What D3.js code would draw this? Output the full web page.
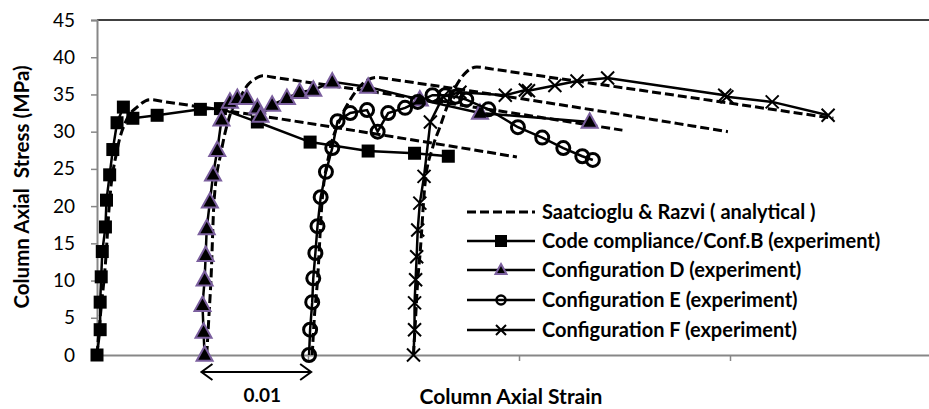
<!DOCTYPE html>
<html><head><meta charset="utf-8">
<script src="https://cdn.jsdelivr.net/npm/d3@7"></script>
<style>
body{margin:0;background:#fff}
svg{display:block}
text{font-family:Lato,"Liberation Sans",sans-serif;fill:#000}
</style>
</head><body>
<svg id="c" width="929" height="409"></svg>
<script>
// ---- data ----
const yTicks = [0,5,10,15,20,25,30,35,40,45];
const xTicks = [0.02,0.04,0.06];
const legendLabels = [
  "Saatcioglu & Razvi ( analytical )",
  "Code compliance/Conf.B (experiment)",
  "Configuration D (experiment)",
  "Configuration E (experiment)",
  "Configuration F (experiment)"
];
const yTitle = "Column Axial  Stress (MPa)";
const xTitle = "Column Axial Strain";
const arrowLabel = "0.01";
const arrowSpan = [0.0099, 0.0203];

// analytical (Saatcioglu & Razvi) curves, one per specimen
const anaB_strain = [0,0.0003,0.0008,0.0012,0.0019,0.0028,0.0038,0.0050,0.0065,0.0398];
const anaB_stress = [0,5,12.3,20.8,27.5,31.6,33.3,34.3,34.0,26.6];
const anaD_strain = [0.0104,0.0106,0.0108,0.0111,0.0118,0.0126,0.0136,0.0143,0.0150,0.0157,0.0172,0.0498];
const anaD_stress = [0,5,10,20.8,27.5,32.2,34.7,36.3,37.1,37.5,37.2,30.2];
const anaE_strain = [0.0204,0.0206,0.0209,0.0213,0.0220,0.0230,0.0240,0.0250,0.0257,0.0265,0.0280,0.0598];
const anaE_stress = [0,5,10,20,27,31.5,34.3,36.2,37.0,37.3,37.0,30.0];
const anaF_strain = [0.0300,0.0302,0.0304,0.0306,0.0311,0.0318,0.0325,0.0333,0.0341,0.0350,0.0360,0.0375,0.0698];
const anaF_stress = [0,5,10,13.2,23.1,27.8,30.6,33.8,36.3,38.0,38.7,38.4,31.8];

// experiments
const confB_strain = [0,0.0003,0.0003,0.0004,0.0005,0.0008,0.0009,0.0012,0.0015,0.0019,0.0025,0.0034,0.0057,0.0098,0.0117,0.0152,0.0202,0.0257,0.0301,0.0333];
const confB_stress = [0,3.4,7.1,10.5,13.9,17.2,20.8,24.2,27.6,31.2,33.3,31.8,32.2,33.0,33.1,31.3,28.6,27.4,27.1,26.7];
const confD_strain = [0.0102,0.0101,0.0100,0.0102,0.0103,0.0104,0.0107,0.0110,0.0114,0.0118,0.0126,0.0133,0.0142,0.0152,0.0155,0.0166,0.0180,0.0192,0.0205,0.0223,0.0257,0.0306,0.0363,0.0467];
const confD_stress = [0,3.1,6.7,10.1,13.4,17.0,20.6,24.2,27.5,31.6,34.0,34.5,34.5,33.2,32.1,33.6,34.5,35.3,35.6,36.7,36.0,34.3,32.5,31.3];
const confE_strain = [0.0201,0.0202,0.0204,0.0205,0.0207,0.0209,0.0212,0.0217,0.0223,0.0228,0.0240,0.0256,0.0266,0.0276,0.0292,0.0304,0.0318,0.0330,0.0340,0.0350,0.0371,0.0399,0.0422,0.0442,0.0460,0.0470];
const confE_stress = [0,3.4,7.1,10.3,13.7,17.3,21.2,24.6,27.8,31.4,32.5,32.9,30.0,32.5,33.2,34.0,34.9,34.9,34.7,34.3,33.0,30.6,29.2,27.8,26.7,26.2];
const confF_strain = [0.0300,0.0301,0.0301,0.0302,0.0303,0.0304,0.0306,0.0310,0.0316,0.0328,0.0344,0.0387,0.0406,0.0409,0.0434,0.0455,0.0484,0.0595,0.0597,0.0640,0.0693];
const confF_stress = [0,3.4,7.0,10.1,13.2,16.8,20.4,24.0,31.3,34.7,35.3,34.9,35.6,35.5,36.2,36.8,37.2,34.9,34.7,34.0,32.2];

// ---- drawing ----
const svg = d3.select("#c");
const L = 97, R = 941, T = 20, B = 355;
const x = d3.scaleLinear().domain([0,0.08]).range([L,R]);
const y = d3.scaleLinear().domain([0,45]).range([B,T]);
const zip = (a,b) => a.map((v,i)=>[v,b[i]]);
const PURPLE = "#7b5f9e";

// plot border (top)
svg.append("line").attr("x1",L).attr("x2",R).attr("y1",T).attr("y2",T)
  .attr("stroke","#000").attr("stroke-width",1.6);

// y axis
const yAxis = svg.append("g").attr("transform",`translate(${L},0)`)
  .call(d3.axisLeft(y).tickValues(yTicks).tickSize(6).tickPadding(16).tickFormat(d3.format("d")));
yAxis.select(".domain").attr("stroke","#878787").attr("stroke-width",2);
yAxis.selectAll(".tick line").attr("stroke","#878787").attr("stroke-width",1.5);
yAxis.selectAll(".tick text").attr("font-size",19).attr("font-family","Lato, sans-serif").attr("fill","#000");

// x axis
const xAxis = svg.append("g").attr("transform",`translate(0,${B})`)
  .call(d3.axisBottom(x).tickValues(xTicks).tickSize(6).tickSizeOuter(0).tickFormat(""));
xAxis.select(".domain").attr("stroke","#878787").attr("stroke-width",2);
xAxis.selectAll(".tick line").attr("stroke","#878787").attr("stroke-width",1.5);

const curveA = d3.line().x(d=>x(d[0])).y(d=>y(d[1])).curve(d3.curveMonotoneX);
const lineE = d3.line().x(d=>x(d[0])).y(d=>y(d[1]));

// analytical dashed
[[anaB_strain,anaB_stress],[anaD_strain,anaD_stress],[anaE_strain,anaE_stress],[anaF_strain,anaF_stress]]
 .forEach(([s,v])=>{
   svg.append("path").attr("d",curveA(zip(s,v))).attr("fill","none")
     .attr("stroke","#000").attr("stroke-width",3).attr("stroke-dasharray","9,4");
 });

// marker drawers
function square(g,cx,cy,sz){ g.append("rect").attr("x",cx-sz/2).attr("y",cy-sz/2).attr("width",sz).attr("height",sz).attr("fill","#000"); }
function tri(g,cx,cy,sz){ const h=sz*0.9; g.append("path").attr("d",`M${cx},${cy-h*0.6}L${cx+sz/2},${cy+h*0.4}L${cx-sz/2},${cy+h*0.4}Z`).attr("fill","#000").attr("stroke",PURPLE).attr("stroke-width",sz>10?2:1.5).attr("stroke-linejoin","miter"); }
function circ(g,cx,cy,sz){ g.append("circle").attr("cx",cx).attr("cy",cy).attr("r",sz/2).attr("fill","none").attr("stroke","#000").attr("stroke-width",sz>10?3:2.5); }
function cross(g,cx,cy,sz){ const h=sz/2; g.append("path").attr("d",`M${cx-h},${cy-h}L${cx+h},${cy+h}M${cx-h},${cy+h}L${cx+h},${cy-h}`).attr("stroke","#000").attr("stroke-width",2); }

const exps = [
  {s:confB_strain,v:confB_stress,m:square,sz:13,lsz:12},
  {s:confD_strain,v:confD_stress,m:tri,sz:16,lsz:11},
  {s:confE_strain,v:confE_stress,m:circ,sz:13,lsz:9},
  {s:confF_strain,v:confF_stress,m:cross,sz:13,lsz:10}
];
exps.forEach(e=>{
  const g = svg.append("g");
  const pts = zip(e.s,e.v);
  g.append("path").attr("d",lineE(pts)).attr("fill","none").attr("stroke","#000").attr("stroke-width",2.5);
  pts.forEach(p=>e.m(g,x(p[0]),y(p[1]),e.sz));
});

// legend
const lg = svg.append("g");
const rowsY = [212,241,270,300,330];
legendLabels.forEach((lab,i)=>{
  const yy = rowsY[i];
  const ln = lg.append("line").attr("x1",467).attr("x2",535).attr("y1",yy).attr("y2",yy)
    .attr("stroke","#000").attr("stroke-width",i===0?3:2.5);
  if(i===0) ln.attr("stroke-dasharray","9,4");
  else exps[i-1].m(lg,501,yy,exps[i-1].lsz);
  lg.append("text").attr("x",542).attr("y",yy).attr("dy","0.35em")
    .attr("font-size",20).attr("font-weight","bold").text(lab);
});

// axis titles
svg.append("text").attr("transform","translate(22,187) rotate(-90)").attr("text-anchor","middle")
  .attr("dy","0.35em").attr("font-size",20.5).attr("font-weight","bold")
  .style("white-space","pre").text(yTitle);
svg.append("text").attr("x",511).attr("y",397).attr("text-anchor","middle").attr("dy","0.35em")
  .attr("font-size",21).attr("font-weight","bold").text(xTitle);

// 0.01 arrow
const ax1 = x(arrowSpan[0]), ax2 = x(arrowSpan[1]), ay = 372;
svg.append("path").attr("d",`M${ax1},${ay}L${ax2},${ay}M${ax1+11},${ay-8}L${ax1},${ay}L${ax1+11},${ay+8}M${ax2-11},${ay-8}L${ax2},${ay}L${ax2-11},${ay+8}`)
  .attr("fill","none").attr("stroke","#000").attr("stroke-width",2);
svg.append("text").attr("x",(ax1+ax2)/2+6).attr("y",395).attr("text-anchor","middle").attr("dy","0.35em")
  .attr("font-size",19).attr("font-weight","bold").text(arrowLabel);
</script>
</body></html>
